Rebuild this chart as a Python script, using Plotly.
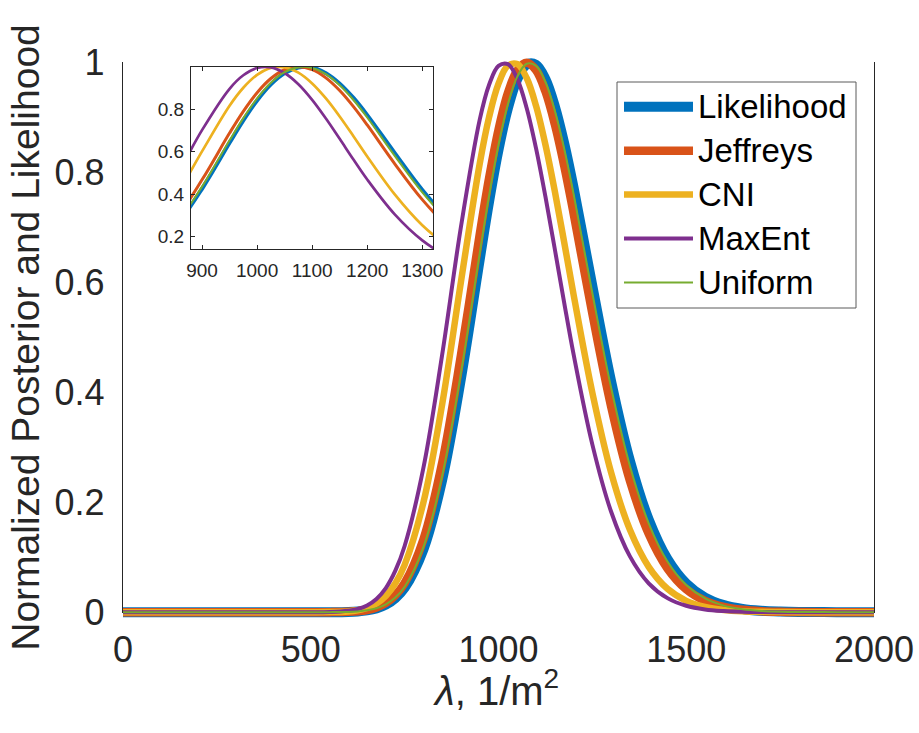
import plotly.graph_objects as go

# ---------------- data ----------------
lam = [0, 100, 200, 300, 400, 500, 550, 600, 625, 650, 675, 700, 725, 750, 800,
       850, 900, 950, 975, 1000, 1025, 1050, 1075, 1100, 1125, 1150, 1175, 1200,
       1250, 1300, 1350, 1400, 1450, 1500, 1550, 1600, 1650, 1700, 1750, 1800,
       1900, 2000]

likelihood = [0, 0, 0, 0, 0, 0, 0.0001, 0.0006, 0.0014, 0.0033, 0.0069, 0.0137,
              0.0255, 0.0444, 0.1142, 0.2409, 0.4254, 0.6420, 0.7476, 0.8416,
              0.9174, 0.9704, 0.9969, 0.9964, 0.9700, 0.9207, 0.8533, 0.7725,
              0.5935, 0.4200, 0.2756, 0.1687, 0.0967, 0.0522, 0.0266, 0.0129,
              0.0059, 0.0026, 0.0011, 0.0004, 0.0001, 0]
jeffreys = [0, 0, 0, 0, 0, 0, 0.0001, 0.0007, 0.0018, 0.0041, 0.0086, 0.0168,
            0.0307, 0.0528, 0.1323, 0.2719, 0.4677, 0.6878, 0.7903, 0.8780,
            0.9447, 0.9861, 1.0000, 0.9865, 0.9479, 0.8881, 0.8123, 0.7260,
            0.5431, 0.3745, 0.2394, 0.1427, 0.0797, 0.0419, 0.0208, 0.0098,
            0.0044, 0.0019, 0.0008, 0.0003, 0, 0]
cni = [0, 0, 0, 0, 0, 0, 0.0002, 0.0015, 0.0036, 0.0079, 0.0158, 0.0297,
       0.0521, 0.0862, 0.1996, 0.3785, 0.6016, 0.8165, 0.9013, 0.9620,
       0.9947, 0.9976, 0.9722, 0.9215, 0.8508, 0.7660, 0.6732, 0.5779,
       0.3993, 0.2541, 0.1500, 0.0826, 0.0426, 0.0207, 0.0095, 0.0041,
       0.0017, 0.0007, 0.0003, 0.0001, 0, 0]
maxent = [0, 0, 0, 0, 0, 0, 0.0004, 0.0026, 0.0059, 0.0124, 0.0242, 0.0440,
          0.0751, 0.1205, 0.2626, 0.4689, 0.7016, 0.8965, 0.9601, 0.9944,
          0.9975, 0.9708, 0.9178, 0.8442, 0.7562, 0.6606, 0.5632, 0.4692,
          0.3050, 0.1828, 0.1016, 0.0526, 0.0256, 0.0117, 0.0050, 0.0021,
          0.0008, 0.0003, 0.0001, 0, 0, 0]
uniform = [0, 0, 0, 0, 0, 0, 0.0001, 0.0006, 0.0015, 0.0035, 0.0073, 0.0144,
           0.0267, 0.0463, 0.1185, 0.2484, 0.4357, 0.6536, 0.7584, 0.8507,
           0.9246, 0.9748, 0.9982, 0.9944, 0.9650, 0.9127, 0.8435, 0.7612,
           0.5806, 0.4084, 0.2662, 0.1619, 0.0922, 0.0494, 0.0250, 0.0120,
           0.0055, 0.0024, 0.0010, 0.0004, 0.0001, 0]

series_names = ["Likelihood", "Jeffreys", "CNI", "MaxEnt", "Uniform"]
series_values = [likelihood, jeffreys, cni, maxent, uniform]

x_ticks = [0, 500, 1000, 1500, 2000]
y_ticks = [0, 0.2, 0.4, 0.6, 0.8, 1]
y_tick_labels = ["0", "0.2", "0.4", "0.6", "0.8", "1"]
inset_x_ticks = [900, 1000, 1100, 1200, 1300]
inset_y_ticks = [0.2, 0.4, 0.6, 0.8]

x_title = "<i>λ</i>, 1/m<sup>2</sup>"
y_title = "Normalized Posterior and Likelihood"

# ---------------- styles ----------------
colors = ["#0072BD", "#D95319", "#EDB120", "#7E2F8E", "#77AC30"]
main_widths = [10, 8.5, 6.5, 4, 2]
inset_widths = [4, 3, 2.7, 2.7, 2]
FONT = "Liberation Sans, Arial, sans-serif"
AX = "#262626"

W, H = 919, 733
ML, MR, MT, MB = 123, 45, 54, 112
PW, PH = W - ML - MR, H - MT - MB
pad = 0.016                      # extra data range so thick lines are not clipped
d = pad / (1 + 2 * pad)


def px_x(px):
    return (px - ML) / PW


def px_y(py):
    return (H - MB - py) / PH


fig = go.Figure()

# frame subplot (axes only)
fig.add_trace(go.Scatter(x=[None], y=[None], xaxis="x", yaxis="y", mode="lines",
                         showlegend=False, hoverinfo="skip"))

# main curves
for name, vals, c, w in zip(series_names, series_values, colors, main_widths):
    fig.add_trace(go.Scatter(x=lam, y=vals, name=name, mode="lines",
                             line=dict(color=c, width=w, shape="spline"),
                             xaxis="x2", yaxis="y2", showlegend=False))

# inset curves
for name, vals, c, w in zip(series_names, series_values, colors, inset_widths):
    fig.add_trace(go.Scatter(x=lam, y=vals, name=name, mode="lines",
                             line=dict(color=c, width=w, shape="spline"),
                             xaxis="x3", yaxis="y3", showlegend=False))

common = dict(ticks="inside", tickcolor=AX, showline=True, linecolor=AX,
              mirror="ticks", showgrid=False, zeroline=False, automargin=False)

fig.update_layout(
    width=W, height=H,
    margin=dict(l=ML, r=MR, t=MT, b=MB, pad=0, autoexpand=False),
    paper_bgcolor="white", plot_bgcolor="white",
    showlegend=False,
    xaxis=dict(domain=[0, 1], anchor="y", range=[0, 2000], tickvals=x_ticks,
               ticklen=8, tickwidth=1.3, linewidth=1.3,
               tickfont=dict(family=FONT, size=36, color=AX),
               ticklabelstandoff=5, **common),
    yaxis=dict(domain=[d, 1 - d], anchor="x", range=[0, 1], tickvals=y_ticks,
               ticktext=y_tick_labels, ticklen=8, tickwidth=1.3, linewidth=1.3,
               tickfont=dict(family=FONT, size=36, color=AX),
               ticklabelstandoff=10,
               title=dict(text=y_title,
                          font=dict(family=FONT, size=39, color=AX), standoff=2),
               **common),
    xaxis2=dict(domain=[0, 1], anchor="y2", range=[0, 2000], visible=False),
    yaxis2=dict(domain=[0, 1], anchor="x2", range=[-pad, 1 + pad], visible=False),
    xaxis3=dict(domain=[px_x(191), px_x(433.3)], anchor="y3", range=[880, 1320],
                tickvals=inset_x_ticks, ticklen=4, tickwidth=1, linewidth=1.2,
                tickfont=dict(family=FONT, size=19, color=AX),
                ticklabelstandoff=4, **common),
    yaxis3=dict(domain=[px_y(249), px_y(67)], anchor="x3", range=[0.142, 0.999],
                tickvals=inset_y_ticks, ticklen=4, tickwidth=1, linewidth=1.2,
                tickfont=dict(family=FONT, size=19, color=AX),
                ticklabelstandoff=2, **common),
)

# legend (box, line samples, labels) and x-axis title
shapes = [dict(type="rect", xref="paper", yref="paper",
               x0=px_x(617), x1=px_x(856), y0=px_y(308), y1=px_y(82),
               line=dict(color="#5a5a5a", width=1), fillcolor="white", layer="above")]
annotations = [dict(xref="paper", yref="paper", x=px_x(496), y=px_y(688),
                    xanchor="center", yanchor="middle", showarrow=False,
                    text=x_title, font=dict(family=FONT, size=40, color=AX))]
leg_y = [106.7, 150.65, 194.6, 238.55, 282.5]
for name, c, w, yy in zip(series_names, colors, main_widths, leg_y):
    shapes.append(dict(type="line", xref="paper", yref="paper",
                       x0=px_x(624), x1=px_x(693), y0=px_y(yy), y1=px_y(yy),
                       line=dict(color=c, width=w), layer="above"))
    annotations.append(dict(xref="paper", yref="paper", x=px_x(696), y=px_y(yy),
                            xanchor="left", yanchor="middle", showarrow=False,
                            text=name, font=dict(family=FONT, size=33, color="#000000")))
fig.update_layout(shapes=shapes, annotations=annotations)

fig.write_html("out.html", config={"displayModeBar": False},
               post_script="document.body.style.margin='0';document.body.style.overflow='hidden';")
